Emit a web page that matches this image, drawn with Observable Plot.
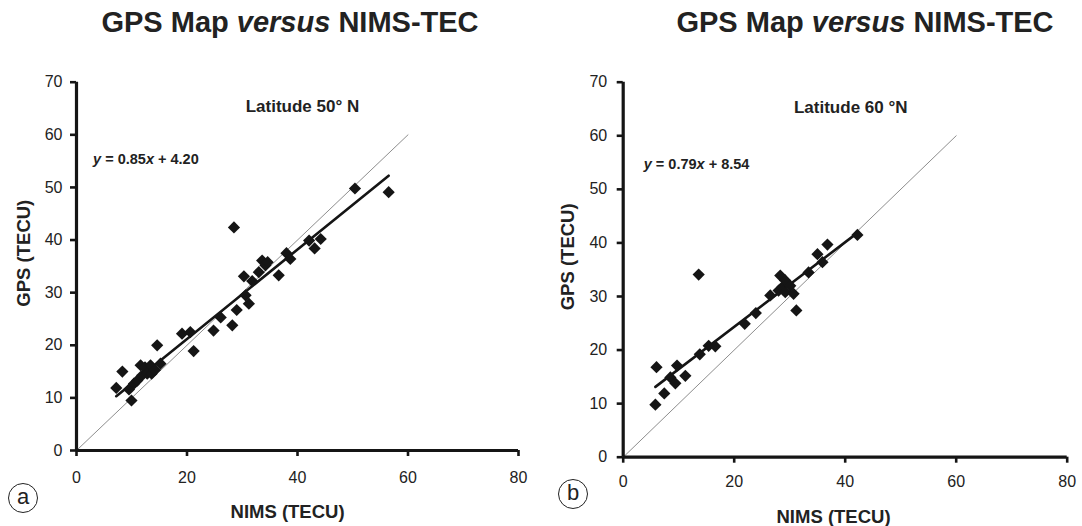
<!DOCTYPE html>
<html>
<head>
<meta charset="utf-8">
<script src="https://cdn.jsdelivr.net/npm/d3@7"></script>
<script src="https://cdn.jsdelivr.net/npm/@observablehq/plot@0.6"></script>
<style>
  body { margin: 0; background: #fff; }
  #fig { position: relative; width: 1082px; height: 526px; overflow: hidden;
         font-family: "Liberation Sans", Arial, sans-serif; color: #222; }
  .panel { position: absolute; top: 0; }
  .title { position: absolute; top: 8px; font-weight: bold; font-size: 29px; line-height: 1;
           white-space: nowrap; transform: translateX(-50%); }
  .tag { position: absolute; width: 28px; height: 28px; border: 1.2px solid #222; border-radius: 50%;
         font-size: 22px; line-height: 26px; text-align: center; }
</style>
</head>
<body>
<div id="fig"></div>
<script>
// NIMS vs GPS-map TEC samples, latitude 50° N
const nims50 = [7.2, 8.3, 9.5, 9.95, 10.4, 11.0, 11.6, 11.9, 12.4, 12.8, 13.4, 13.6, 14.2, 14.6, 15.2,
  19.1, 20.6, 21.2, 24.8, 26.1, 28.2, 28.5, 29.0, 30.3, 30.6, 31.2, 31.8, 33.0, 33.6, 34.2, 34.6,
  36.6, 38.0, 38.7, 42.1, 43.1, 44.2, 50.4, 56.5];
const gps50 = [11.9, 15.0, 11.6, 9.5, 12.7, 13.3, 16.2, 14.3, 15.8, 14.6, 16.2, 14.6, 15.3, 20.0, 16.5,
  22.2, 22.5, 18.9, 22.8, 25.3, 23.8, 42.4, 26.7, 33.1, 29.5, 27.9, 32.2, 33.9, 36.1, 35.2, 35.8,
  33.3, 37.5, 36.4, 39.9, 38.4, 40.2, 49.8, 49.1];

// NIMS vs GPS-map TEC samples, latitude 60° N
const nims60 = [5.8, 6.0, 7.4, 8.5, 9.4, 9.7, 11.2, 13.6, 13.8, 15.4, 16.6, 21.9, 23.9, 26.5, 28.0,
  28.3, 28.6, 29.2, 29.2, 30.1, 30.7, 31.2, 33.4, 35.0, 35.9, 36.8, 42.2];
const gps60 = [9.8, 16.8, 11.9, 14.9, 13.8, 17.1, 15.2, 34.1, 19.2, 20.8, 20.7, 24.9, 26.9, 30.2, 31.1,
  33.9, 31.7, 33.0, 30.8, 32.0, 30.5, 27.4, 34.5, 37.9, 36.4, 39.7, 41.5];

// Least-squares fits (slope, intercept) as printed on each panel
const fit50 = [0.85, 4.20];
const fit60 = [0.79, 8.54];

// Axis ticks and the 1:1 reference line extent
const xTicks = [0, 20, 40, 60, 80];
const yTicks = [0, 10, 20, 30, 40, 50, 60, 70];
const identityLine = [0, 60];

const titleText = "GPS Map <i>versus</i> NIMS-TEC";
const xLabel = "NIMS (TECU)";
const yLabel = "GPS (TECU)";

function panel({xs, ys, fit, latitude, eqText, left, margins, xPad, yPad, ann}) {
  const pts = xs.map((x, i) => ({x, y: ys[i]}));
  const [x0, x1] = d3.extent(xs);
  const fitLine = [x0, x1].map(x => ({x, y: fit[0] * x + fit[1]}));
  const diag = identityLine.map(v => ({x: v, y: v}));
  const ink = "#151515";
  const chart = Plot.plot({
    width: 541,
    height: 526,
    marginLeft: margins[0], marginRight: margins[1], marginTop: margins[2], marginBottom: margins[3],
    x: {domain: [0, 80]},
    y: {domain: [0, 70]},
    style: {fontFamily: "'Liberation Sans', Arial, sans-serif", fontSize: "16px", color: "#222",
            background: "transparent", overflow: "visible"},
    marks: [
      Plot.line(diag, {x: "x", y: "y", stroke: "#808080", strokeWidth: 0.9}),
      Plot.line(fitLine, {x: "x", y: "y", stroke: ink, strokeWidth: 2.6}),
      Plot.dot(pts, {x: "x", y: "y", symbol: "diamond2", r: 5.5, fill: ink, stroke: "none"}),
      Plot.axisX({ticks: xTicks, tickSize: 6, tickPadding: xPad, strokeWidth: 2.6, stroke: ink,
                  fontSize: 16, fill: "#222", label: null}),
      Plot.axisY({ticks: yTicks, tickSize: 6, tickPadding: yPad, strokeWidth: 2.6, stroke: ink,
                  fontSize: 16, fill: "#222", label: null}),
      Plot.ruleX([0], {y1: 0, y2: 70, stroke: ink, strokeWidth: 3.2}),
      Plot.ruleY([0], {x1: 0, x2: 80, stroke: ink, strokeWidth: 3.2}),
      Plot.text([latitude], {x: ann.lat[0], y: ann.lat[1], text: d => d, textAnchor: "middle",
                 lineAnchor: "bottom", fontWeight: "bold", fontSize: 17, fill: "#222"}),
      Plot.text([eqText], {x: ann.eq[0], y: ann.eq[1], text: d => d, textAnchor: "start",
                 lineAnchor: "bottom", fontWeight: "bold", fontSize: 14.5, fill: "#222",
                 className: "eqn"}),
      Plot.text([xLabel], {x: ann.xl[0], y: ann.xl[1], text: d => d, textAnchor: "middle",
                 lineAnchor: "bottom", fontWeight: "bold", fontSize: 18.5, fill: "#222"}),
      Plot.text([yLabel], {x: ann.yl[0], y: ann.yl[1], text: d => d, textAnchor: "middle",
                 lineAnchor: "middle", rotate: -90, fontWeight: "bold", fontSize: 18.5, fill: "#222"})
    ]
  });
  // italic variables inside the fit equation
  const eq = chart.querySelector(".eqn text");
  if (eq) {
    eq.innerHTML = `<tspan font-style="italic">y</tspan> = ${fit[0].toFixed(2)}<tspan font-style="italic">x</tspan> + ${fit[1].toFixed(2)}`;
  }
  chart.classList.add("panel");
  chart.style.left = left + "px";
  return chart;
}

const fig = document.getElementById("fig");

fig.appendChild(panel({
  xs: nims50, ys: gps50, fit: fit50,
  latitude: "Latitude 50° N",
  eqText: `y = ${fit50[0].toFixed(2)}x + ${fit50[1].toFixed(2)}`,
  left: 0, margins: [76, 23, 81.7, 76], xPad: 15, yPad: 8,
  ann: {lat: [40.9, 64.3], eq: [3.0, 54.5], xl: [38.2, -12.9], yl: [-9.4, 37.5]}
}));

fig.appendChild(panel({
  xs: nims60, ys: gps60, fit: fit60,
  latitude: "Latitude 60 °N",
  eqText: `y = ${fit60[0].toFixed(2)}x + ${fit60[1].toFixed(2)}`,
  left: 541, margins: [81.7, 15.3, 81.7, 69.3], xPad: 12, yPad: 10,
  ann: {lat: [41.0, 64.3], eq: [3.7, 53.8], xl: [37.9, -12.2], yl: [-9.9, 37.4]}
}));

// panel titles and letter tags
[[290, "a", 8, 483], [865, "b", 558, 479]].forEach(([cx, letter, tx, ty]) => {
  const t = document.createElement("div");
  t.className = "title";
  t.style.left = cx + "px";
  t.innerHTML = titleText;
  fig.appendChild(t);
  const g = document.createElement("div");
  g.className = "tag";
  g.style.left = tx + "px";
  g.style.top = ty + "px";
  g.textContent = letter;
  fig.appendChild(g);
});
</script>
</body>
</html>
